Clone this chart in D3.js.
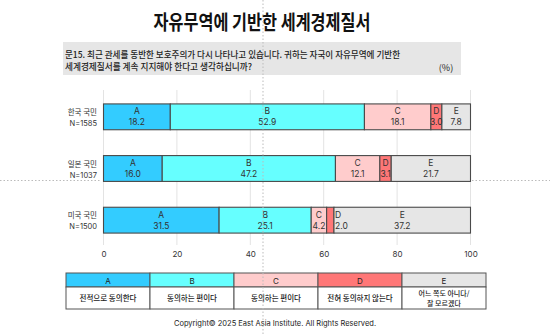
<!DOCTYPE html>
<html>
<head>
<meta charset="utf-8">
<script src="https://cdn.jsdelivr.net/npm/d3@7"></script>
<style>
  html, body { margin: 0; padding: 0; background: #fff; }
  svg { display: block; font-family: "Noto Sans CJK KR", "Noto Sans", sans-serif; }
</style>
</head>
<body>
<svg id="chart" width="550" height="336"></svg>
<script>
// Survey groups and their sample sizes
const groups = ["한국 국민", "일본 국민", "미국 국민"];
const sampleSizes = ["N=1585", "N=1037", "N=1500"];

// Response codes and their meanings
const codes = ["A", "B", "C", "D", "E"];
const codeLabels = [
  ["전적으로 동의한다"],
  ["동의하는 편이다"],
  ["동의하는 편이다"],
  ["전혀 동의하지 않는다"],
  ["어느 쪽도 아니다/", "잘 모르겠다"]
];

// Shares (%) per group, in the order A..E
const korea = [18.2, 52.9, 18.1, 3.0, 7.8];
const japan = [16.0, 47.2, 12.1, 3.1, 21.7];
const usa   = [31.5, 25.1, 4.2, 2.0, 37.2];
const seriesValues = [korea, japan, usa];

const xTicks = [0, 20, 40, 60, 80, 100];

const colors = ["#33ccff", "#66ffff", "#ffcccc", "#ff7777", "#e6e6e6"];

const svg = d3.select("#chart");

// Title
svg.append("text")
  .attr("x", 262).attr("y", 30)
  .attr("text-anchor", "middle")
  .attr("font-size", 20).attr("font-weight", 600)
  .attr("fill", "#111")
  .attr("textLength", 217).attr("lengthAdjust", "spacingAndGlyphs")
  .text("자유무역에 기반한 세계경제질서");

// Question box
svg.append("rect")
  .attr("x", 63).attr("y", 42).attr("width", 398).attr("height", 33)
  .attr("fill", "#e6e6e6");
svg.append("text")
  .attr("x", 65).attr("y", 58).attr("font-size", 9).attr("font-weight", 500).attr("fill", "#222")
  .attr("textLength", 335).attr("lengthAdjust", "spacingAndGlyphs")
  .text("문15. 최근 관세를 동반한 보호주의가 다시 나타나고 있습니다. 귀하는 자국이 자유무역에 기반한");
svg.append("text")
  .attr("x", 65).attr("y", 70).attr("font-size", 9).attr("font-weight", 500).attr("fill", "#222")
  .attr("textLength", 187).attr("lengthAdjust", "spacingAndGlyphs")
  .text("세계경제질서를 계속 지지해야 한다고 생각하십니까?");
svg.append("text")
  .attr("x", 446).attr("y", 71).attr("text-anchor", "middle")
  .attr("font-size", 9).attr("fill", "#222")
  .text("(%)");

// Scales
const x = d3.scaleLinear().domain([0, 100]).range([103.5, 470.5]);
const y = d3.scaleBand().domain(groups).range([91, 246]).paddingInner(0.5).paddingOuter(0.25);

// Vertical grid lines
svg.append("g").selectAll("line").data(xTicks).join("line")
  .attr("x1", d => x(d)).attr("x2", d => x(d))
  .attr("y1", 90).attr("y2", 245)
  .attr("stroke", "#e3e3e3").attr("stroke-width", 1);

// Axis tick labels
const axis = d3.axisBottom(x).tickValues(xTicks).tickSize(0).tickPadding(0);
const gAxis = svg.append("g").attr("transform", "translate(0,251)").call(axis);
gAxis.select(".domain").remove();
gAxis.selectAll("text").attr("font-size", 8).attr("fill", "#333")
  .attr("font-family", "Inter, 'Noto Sans', sans-serif");

// Group labels
const labels = svg.append("g");
groups.forEach((g, i) => {
  const cy = y(g) + y.bandwidth() / 2;
  labels.append("text").attr("x", 97).attr("y", cy - 2)
    .attr("text-anchor", "end").attr("font-size", 7.5).attr("fill", "#333").text(g);
  labels.append("text").attr("x", 97).attr("y", cy + 9)
    .attr("text-anchor", "end").attr("font-size", 7.5).attr("fill", "#333")
    .attr("font-family", "Inter, 'Noto Sans', sans-serif").text(sampleSizes[i]);
});

// Stacked bars
groups.forEach((g, i) => {
  const vals = seriesValues[i];
  let acc = 0;
  const segs = vals.map((v, j) => {
    const s = { code: codes[j], v, x0: acc, x1: acc + v, j };
    acc += v;
    return s;
  });
  const row = svg.append("g");
  row.selectAll("rect").data(segs).join("rect")
    .attr("x", d => x(d.x0)).attr("y", y(g))
    .attr("width", d => Math.min(x(d.x1), x(100)) - x(d.x0))
    .attr("height", y.bandwidth())
    .attr("fill", d => colors[d.j])
    .attr("stroke", "#4a4a4a").attr("stroke-width", 1.1);

  segs.forEach(d => {
    const w = x(d.x1) - x(d.x0);
    let tx = (x(d.x0) + Math.min(x(d.x1), x(100))) / 2;
    let anchor = "middle";
    if (w < 9) { tx = x(d.x1) + 1; anchor = "start"; }
    row.append("text").attr("x", tx).attr("y", y(g) + 10.5)
      .attr("text-anchor", anchor).attr("font-size", 8.5).attr("fill", "#333")
      .attr("font-family", "Inter, 'Noto Sans', sans-serif").text(d.code);
    row.append("text").attr("x", tx).attr("y", y(g) + 21.5)
      .attr("text-anchor", anchor).attr("font-size", 8.5).attr("fill", "#333")
      .attr("font-family", "Inter, 'Noto Sans', sans-serif").text(d.v.toFixed(1));
  });
});

// Legend table
const colW = 84, tx0 = 66, headTop = 273, headH = 14, bodyH = 22;
const legend = svg.append("g");
codes.forEach((c, j) => {
  const lx = tx0 + j * colW;
  legend.append("rect").attr("x", lx).attr("y", headTop).attr("width", colW).attr("height", headH)
    .attr("fill", colors[j]).attr("stroke", "#555").attr("stroke-width", 1);
  legend.append("rect").attr("x", lx).attr("y", headTop + headH).attr("width", colW).attr("height", bodyH)
    .attr("fill", "#fff").attr("stroke", "#555").attr("stroke-width", 1);
  legend.append("text").attr("x", lx + colW / 2).attr("y", headTop + 10.5)
    .attr("text-anchor", "middle").attr("font-size", 8).attr("fill", "#222")
    .attr("font-family", "Inter, 'Noto Sans', sans-serif").text(c);
  const lines = codeLabels[j];
  const multi = lines.length > 1;
  lines.forEach((t, k) => {
    const ly = headTop + headH + bodyH / 2 + 3 + (k - (lines.length - 1) / 2) * 9.5;
    legend.append("text").attr("x", lx + colW / 2).attr("y", ly)
      .attr("text-anchor", "middle").attr("font-size", multi ? 7 : 7.5).attr("font-weight", 500)
      .attr("fill", "#222").text(t);
  });
});

// Copyright
svg.append("text")
  .attr("x", 275).attr("y", 326).attr("text-anchor", "middle")
  .attr("font-size", 7.5).attr("fill", "#222")
  .attr("font-family", "Inter, 'Noto Sans', sans-serif")
  .text("Copyright© 2025 East Asia Institute. All Rights Reserved.");

// Dotted guide lines
svg.append("line").attr("x1", 263).attr("x2", 263).attr("y1", 0).attr("y2", 336)
  .attr("stroke", "#bbb").attr("stroke-width", 1).attr("stroke-dasharray", "1.5,2");
svg.append("line").attr("x1", 0).attr("x2", 100).attr("y1", 180.5).attr("y2", 180.5)
  .attr("stroke", "#bbb").attr("stroke-width", 1).attr("stroke-dasharray", "1.5,2");
svg.append("line").attr("x1", 472).attr("x2", 550).attr("y1", 180.5).attr("y2", 180.5)
  .attr("stroke", "#bbb").attr("stroke-width", 1).attr("stroke-dasharray", "1.5,2");
</script>
</body>
</html>
